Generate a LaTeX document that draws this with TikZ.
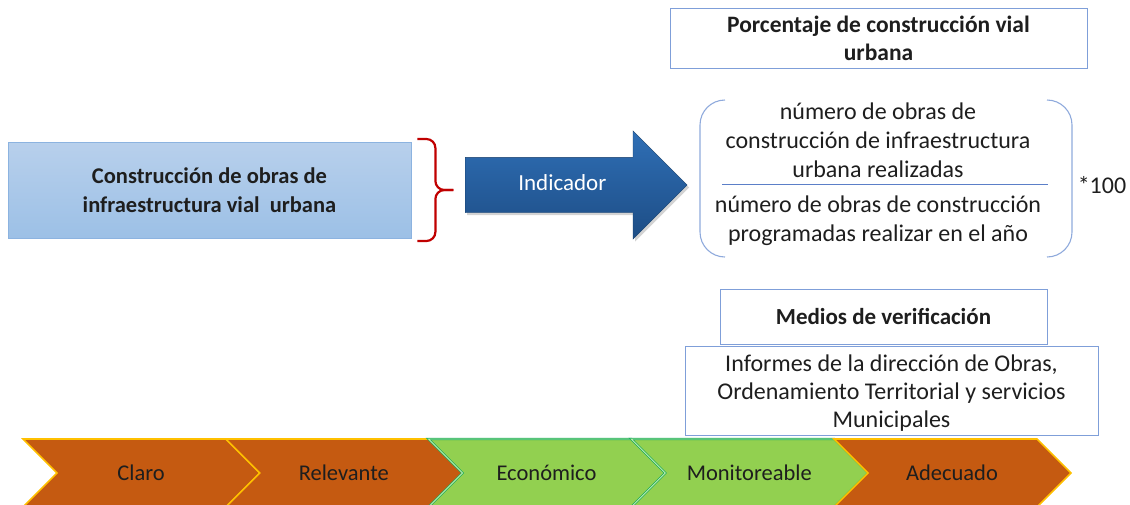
\documentclass[tikz,border=0pt]{standalone}
\usepackage{fontspec}
\setmainfont{Carlito}
\usetikzlibrary{shapes.arrows,shadows,calc}

\definecolor{boxtop}{HTML}{B8D0EC}
\definecolor{boxbot}{HTML}{9CC0E6}
\definecolor{boxline}{HTML}{8CB3E0}
\definecolor{bracered}{HTML}{C00000}
\definecolor{arrowlight}{HTML}{2F6FB6}
\definecolor{arrowdark}{HTML}{1D4D85}
\definecolor{frameblue}{HTML}{7F9FD9}
\definecolor{bracketblue}{HTML}{8FAADC}
\definecolor{rulerblue}{HTML}{5B7FC8}
\definecolor{chevorange}{HTML}{C55A11}
\definecolor{chevgold}{HTML}{FFC000}
\definecolor{chevgreen}{HTML}{92D050}
\definecolor{chevedge}{HTML}{1DAF5C}
\definecolor{chevinner}{HTML}{C2EBB0}
\definecolor{txt}{HTML}{1E1E1E}

\tikzset{
  basefont/.style={font=\fontsize{24}{29}\selectfont, text=txt, align=center},
  objbox/.style={basefont, font=\fontsize{22.5}{29}\selectfont, draw=boxline, line width=0.8pt,
                 top color=boxtop, bottom color=boxbot,
                 minimum width=403pt, minimum height=96pt, inner sep=0pt},
  framebox/.style={basefont, draw=frameblue, line width=1pt, fill=white, inner sep=0pt},
  arrowshape/.style={single arrow, basefont, font=\fontsize{23}{28}\selectfont, text=white,
                 draw=arrowdark!80!black, line width=0.4pt,
                 top color=arrowlight, bottom color=arrowdark,
                 single arrow head extend=26.5pt, minimum width=108pt, minimum height=222pt,
                 text height=14pt, text depth=4pt, inner ysep=18.5pt, inner xsep=4pt,
                 drop shadow={shadow xshift=2pt, shadow yshift=-2.5pt, opacity=0.35}},
  orangechev/.style={fill=chevorange, draw=chevgold, line width=1.6pt, line join=miter},
  greenchev/.style={fill=chevgreen, draw=chevedge, line width=0.8pt, double=chevinner,
                 double distance=0.8pt, line join=miter},
  chevlabel/.style={basefont, font=\fontsize{22.5}{26}\selectfont}
}

\begin{document}
\begin{tikzpicture}[x=1pt, y=-1pt]
\useasboundingbox (0,0) rectangle (1130,504);

% objective box
\node[objbox] (obj) at (209.5,190)
  {\textbf{Construcción de obras de}\\\textbf{infraestructura vial \ urbana}};

% red brace to the right of the objective
\coordinate (bt) at ($(obj.east)+(6,-51)$);
\coordinate (bb) at ($(obj.east)+(6,51)$);
\coordinate (bm) at ($(obj.east)+(24,0)$);
\coordinate (btip) at ($(obj.east)+(42,0)$);
\draw[bracered, line width=2.2pt, rounded corners=9pt]
  (bt) -- (bt -| bm) -- (bm) -- (btip);
\draw[bracered, line width=2.2pt, rounded corners=9pt]
  (btip) -- (bm) -- (bb -| bm) -- (bb);

% indicator arrow
\node[arrowshape, anchor=tail] (ind) at (465,185) {Indicador};

% indicator name
\node[framebox, font=\fontsize{23.5}{28}\selectfont, minimum width=417pt, minimum height=60pt]
  (pct) at (878.5,38)
  {\textbf{Porcentaje de construcción vial}\\\textbf{urbana}};

% formula: numerator over denominator inside a bracket pair
\node[basefont] (num) at (878,140)
  {número de obras de\\construcción de infraestructura\\urbana realizadas};
\node[basefont] (den) at (878,220.5)
  {número de obras de construcción\\programadas realizar en el año};
\coordinate (rl) at (722,184);
\coordinate (rr) at (1048,184);
\draw[rulerblue, line width=0.9pt] (rl) -- (rr);
\coordinate (kl) at (700,100);
\coordinate (kr) at (1072,257);
\draw[bracketblue, line width=1.1pt, rounded corners=25pt]
  ($(kl)+(25,0)$) -- (kl) -- (kl |- kr) -- ($(kl |- kr)+(25,0)$);
\draw[bracketblue, line width=1.1pt, rounded corners=25pt]
  ($(kr |- kl)+(-25,0)$) -- (kr |- kl) -- (kr) -- ($(kr)+(-25,0)$);
\node[basefont, inner sep=0pt] (times) at (1102,185) {*100};

% means of verification
\node[framebox, font=\fontsize{23}{28}\selectfont, minimum width=327pt, minimum height=55pt]
  (med) at (883.5,316.5)
  {\textbf{Medios de verificación}};
\node[framebox, minimum width=413pt, minimum height=89pt] (inf) at (891.5,390.5) {};
\node[basefont, font=\fontsize{24}{28}\selectfont] (inftext) at ($(inf.center)+(0,2.5)$)
  {Informes de la dirección de Obras,\\Ordenamiento Territorial y servicios\\Municipales};

% criteria chevrons
\foreach \i/\name/\lab/\sty in {0/c1/Claro/orangechev, 1/c2/Relevante/orangechev,
    2/c3/Económico/greenchev, 3/c4/Monitoreable/greenchev, 4/c5/Adecuado/orangechev}{
  \pgfmathsetmacro{\s}{23+202.75*\i}
  \draw[\sty] (\s,439) -- (\s+203,439) -- (\s+237,473) -- (\s+203,507) -- (\s,507)
     -- (\s+34,473) -- cycle;
  \node[chevlabel] (\name) at (\s+118,473) {\lab};
}
\end{tikzpicture}
\end{document}
